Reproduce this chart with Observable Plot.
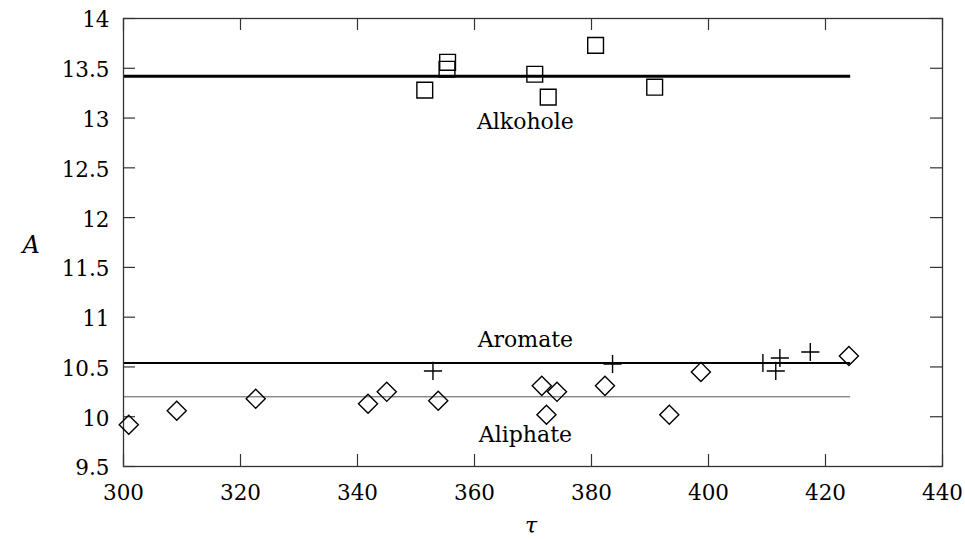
<!DOCTYPE html>
<html>
<head>
<meta charset="utf-8">
<script src="https://cdn.jsdelivr.net/npm/d3@7"></script>
<script src="https://cdn.jsdelivr.net/npm/@observablehq/plot@0.6"></script>
<style>
  html, body { margin: 0; padding: 0; background: #fff; }
  #chart { width: 965px; height: 539px; }
</style>
</head>
<body>
<div id="chart"></div>
<script>
// Alkohole (squares)
const alkX = [351.5, 355.4, 355.3, 370.3, 372.6, 380.7, 390.8];
const alkY = [13.28, 13.56, 13.49, 13.44, 13.21, 13.73, 13.31];
// Aromate (plus)
const aroX = [352.9, 383.6, 409.3, 412.2, 411.5, 417.4];
const aroY = [10.46, 10.53, 10.54, 10.59, 10.46, 10.65];
// Aliphate (diamonds)
const aliX = [300.9, 309.1, 322.6, 341.8, 345.0, 353.8, 371.5, 374.1, 372.3, 382.3, 393.3, 398.7, 424.0];
const aliY = [9.92, 10.06, 10.18, 10.13, 10.25, 10.16, 10.31, 10.25, 10.02, 10.31, 10.02, 10.45, 10.61];

// group mean lines
const groupNames = ["Alkohole", "Aromate", "Aliphate"];
const groupLevel = [13.42, 10.54, 10.2];
const lineStart = [300, 300, 300];
const lineEnd = [424.3, 424.3, 424.3];
const lineWidth = [3, 2, 1];
const lineColor = ["#000", "#000", "#555"];

// group labels
const labelX = [368.7, 368.7, 368.7];
const labelY = [12.89, 10.70, 9.745];

// ticks
const xTicks = [300, 320, 340, 360, 380, 400, 420, 440];
const yTicks = [9.5, 10, 10.5, 11, 11.5, 12, 12.5, 13, 13.5, 14];

const toPts = (xs, ys) => xs.map((x, i) => ({x, y: ys[i]}));
const alk = toPts(alkX, alkY);
const aro = toPts(aroX, aroY);
const ali = toPts(aliX, aliY);
const lines = groupNames.map((n, i) => ({name: n, y: groupLevel[i], x1: lineStart[i], x2: lineEnd[i], w: lineWidth[i], c: lineColor[i]}));
const labels = groupNames.map((n, i) => ({name: n, x: labelX[i], y: labelY[i]}));

const W = 965, H = 539, mL = 123, mR = 23, mT = 18, mB = 73;
const pw = W - mL - mR, ph = H - mT - mB;
const tl = 12;
const font = "DejaVu Serif";
const fs = 21.5;

const chart = Plot.plot({
  width: W,
  height: H,
  marginLeft: mL,
  marginRight: mR,
  marginTop: mT,
  marginBottom: mB,
  style: {fontFamily: font, fontSize: fs + "px", color: "#000", background: "#fff"},
  x: {domain: [300, 440], axis: null},
  y: {domain: [9.5, 14], axis: null},
  marks: [
    // group lines
    ...lines.map(l => Plot.ruleY([l], {y: "y", x1: "x1", x2: "x2", stroke: l.c, strokeWidth: l.w})),
    // inward ticks on all four sides
    Plot.ruleX(xTicks, {x: d => d, insetTop: ph - tl, stroke: "#333", strokeWidth: 1.2}),
    Plot.ruleX(xTicks, {x: d => d, insetBottom: ph - tl, stroke: "#333", strokeWidth: 1.2}),
    Plot.ruleY(yTicks, {y: d => d, insetRight: pw - tl, stroke: "#333", strokeWidth: 1.2}),
    Plot.ruleY(yTicks, {y: d => d, insetLeft: pw - tl, stroke: "#333", strokeWidth: 1.2}),
    Plot.frame({stroke: "#333", strokeWidth: 1.3}),
    // tick labels
    Plot.text(xTicks, {x: d => d, frameAnchor: "bottom", dy: 27, lineAnchor: "middle", textAnchor: "middle", text: d => String(d), fontSize: fs, fontFamily: font, fill: "#000"}),
    Plot.text(yTicks, {y: d => d, frameAnchor: "left", dx: -14, dy: 2, lineAnchor: "middle", textAnchor: "end", text: d => String(d), fontSize: fs, fontFamily: font, fill: "#000"}),
    // axis titles
    Plot.text(["τ"], {frameAnchor: "bottom", dx: -2, dy: 59, text: d => d, fontStyle: "italic", fontSize: 22, lineAnchor: "middle", fontFamily: font, fill: "#000"}),
    Plot.text(["A"], {frameAnchor: "left", dx: -101, dy: 3, text: d => d, fontStyle: "italic", fontSize: 24, lineAnchor: "middle", fontFamily: font, fill: "#000"}),
    // data points
    Plot.dot(alk, {x: "x", y: "y", symbol: "square", r: 8.9, stroke: "#000", strokeWidth: 1.4, fill: "none"}),
    Plot.dot(ali, {x: "x", y: "y", symbol: "diamond2", r: 8.6, stroke: "#000", strokeWidth: 1.4, fill: "none"}),
    Plot.dot(aro, {x: "x", y: "y", symbol: "plus", r: 5.9, stroke: "#000", strokeWidth: 1.4}),
    // group labels
    Plot.text(labels, {x: "x", y: "y", text: "name", textAnchor: "middle", lineAnchor: "bottom", fontSize: 22, fill: "#000", fontFamily: font})
  ]
});
document.getElementById("chart").appendChild(chart);
</script>
</body>
</html>
